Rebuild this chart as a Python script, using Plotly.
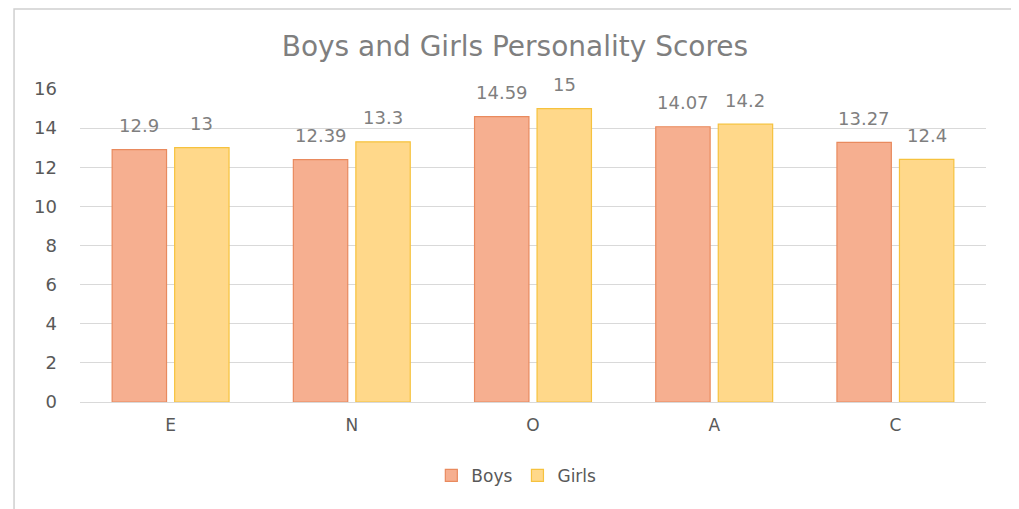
import plotly.graph_objects as go

categories = ["E", "N", "O", "A", "C"]
boys = [12.9, 12.39, 14.59, 14.07, 13.27]
girls = [13, 13.3, 15, 14.2, 12.4]
boys_labels = ["12.9", "12.39", "14.59", "14.07", "13.27"]
girls_labels = ["13", "13.3", "15", "14.2", "12.4"]

FONT = "DejaVu Sans, sans-serif"
GREY = "#7f7f7f"
TICK = "#595959"

# layout geometry (style only)
L, T, PW, PH = 72, 81, 906, 313
W, H = 1019, 509
BARGAP, GROUPGAP = 0.31, 0.13
slot = PW / len(categories) * (1 - BARGAP) / 2
shift = slot / 2

fig = go.Figure()
fig.add_trace(go.Bar(
    name="Boys", x=categories, y=boys,
    marker=dict(color="#F6AF90", line=dict(color="#E98A5E", width=1.2)),
))
fig.add_trace(go.Bar(
    name="Girls", x=categories, y=girls,
    marker=dict(color="#FFD88A", line=dict(color="#F6C23E", width=1.2)),
))

annotations = []
for cat, v, lab in zip(categories, boys, boys_labels):
    annotations.append(dict(x=cat, y=v, text=lab, showarrow=False, xref="x", yref="y",
                            xshift=-shift, yshift=24, yanchor="middle",
                            font=dict(family=FONT, size=18, color=GREY)))
for cat, v, lab in zip(categories, girls, girls_labels):
    annotations.append(dict(x=cat, y=v, text=lab, showarrow=False, xref="x", yref="y",
                            xshift=shift, yshift=24, yanchor="middle",
                            font=dict(family=FONT, size=18, color=GREY)))

fig.update_layout(
    width=W, height=H,
    margin=dict(l=L, r=W - L - PW, t=T, b=H - T - PH),
    paper_bgcolor="white", plot_bgcolor="white",
    font=dict(family=FONT, color=TICK, size=17),
    title=dict(text="Boys and Girls Personality Scores", x=0.4975, xanchor="center",
               y=0.9253, yanchor="middle",
               font=dict(size=28, color=GREY, family=FONT)),
    barmode="group", bargap=BARGAP, bargroupgap=GROUPGAP,
    showlegend=True,
    legend=dict(orientation="h", x=0.4816, xanchor="center", y=-0.236, yanchor="middle",
                font=dict(size=17, color=TICK, family=FONT), itemwidth=30,
                traceorder="normal"),
    xaxis=dict(showgrid=False, showline=True, linecolor="#d9d9d9", ticks="",
               ticklabelstandoff=8, tickfont=dict(size=17, color=TICK, family=FONT)),
    yaxis=dict(range=[0, 16], dtick=2, showgrid=True, gridcolor="#d9d9d9",
               zeroline=False, showline=False, ticks="", ticklabelstandoff=22,
               tickfont=dict(size=18, color=TICK, family=FONT)),
    annotations=annotations,
    shapes=[dict(type="rect", xref="paper", yref="paper",
                 x0=-0.0728, x1=1.0298, y0=-0.4, y1=1.2556,
                 line=dict(color="#d0d0d0", width=1.5), fillcolor="rgba(0,0,0,0)")],
)

fig.write_html("out.html")
